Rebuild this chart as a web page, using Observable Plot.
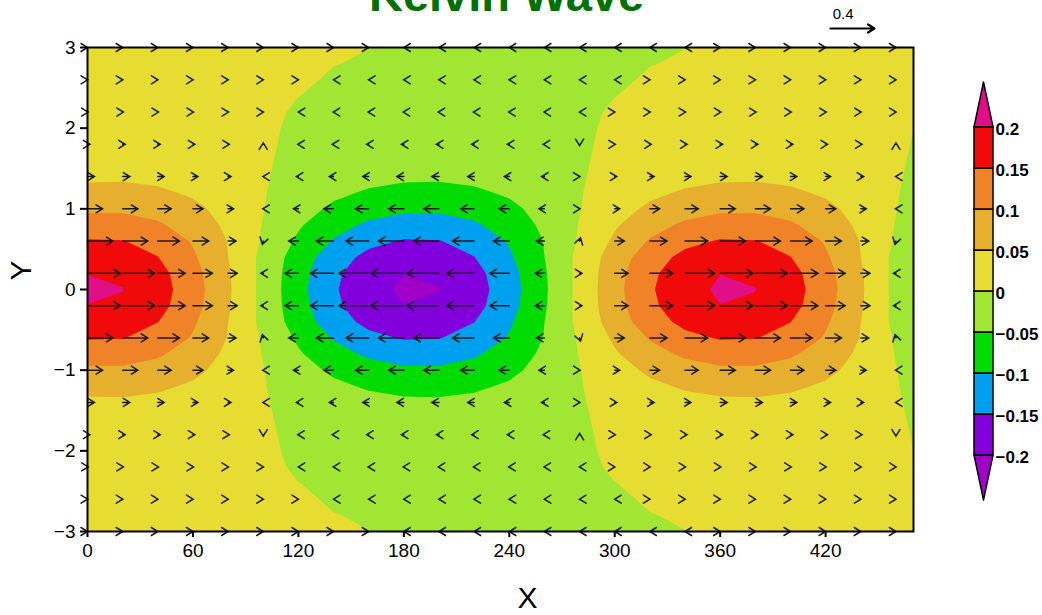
<!DOCTYPE html>
<html><head><meta charset="utf-8">
<script src="https://cdn.jsdelivr.net/npm/d3@7"></script>
<script src="https://cdn.jsdelivr.net/npm/@observablehq/plot@0.6"></script>
<style>
body{margin:0;background:#fff;}
#wrap{position:relative;width:1042px;height:615px;overflow:hidden;font-family:"Liberation Sans",Arial,sans-serif;}
#bar{position:absolute;left:940px;top:70px;}
#main{position:absolute;left:0;top:0;}
</style></head><body><div id="wrap"><div id="main"></div><div id="bar"></div></div>
<script>
// ---------- data ----------
// grid columns (x) for the shaded field
const xGrid = [0,20,40,60,80,100,120,140,160,180,200,220,240,260,280,300,320,340,360,380,400,420,440,460,480];
// grid rows (y >= 0); the field is symmetric about y = 0
const yNorth = [0,0.2,0.4,0.6,0.8,1.0,1.2,1.4,1.6,1.8,2.0,2.2,2.4,2.6,2.8,3.0];
const hNorth = [
 [0.2059,0.2009,0.1716,0.1217,0.0571,-0.0144,-0.0842,-0.1438,-0.1861,-0.2059,-0.2009,-0.1716,-0.1217,-0.0571,0.0144,0.0842,0.1438,0.1861,0.2059,0.2009,0.1716,0.1217,0.0571,-0.0144,-0.0842],
 [0.1994,0.1945,0.1662,0.1179,0.0553,-0.0140,-0.0815,-0.1393,-0.1802,-0.1994,-0.1945,-0.1662,-0.1179,-0.0553,0.0140,0.0815,0.1393,0.1802,0.1994,0.1945,0.1662,0.1179,0.0553,-0.0140,-0.0815],
 [0.1811,0.1767,0.1510,0.1070,0.0502,-0.0127,-0.0741,-0.1265,-0.1637,-0.1811,-0.1767,-0.1510,-0.1070,-0.0502,0.0127,0.0741,0.1265,0.1637,0.1811,0.1767,0.1510,0.1070,0.0502,-0.0127,-0.0741],
 [0.1537,0.1518,0.1316,0.0956,0.0480,-0.0054,-0.0581,-0.1038,-0.1370,-0.1537,-0.1518,-0.1316,-0.0956,-0.0480,0.0054,0.0581,0.1038,0.1370,0.1537,0.1518,0.1316,0.0956,0.0480,-0.0054,-0.0581],
 [0.1226,0.1218,0.1064,0.0781,0.0404,-0.0022,-0.0445,-0.0814,-0.1085,-0.1226,-0.1218,-0.1064,-0.0781,-0.0404,0.0022,0.0445,0.0814,0.1085,0.1226,0.1218,0.1064,0.0781,0.0404,-0.0022,-0.0445],
 [0.0913,0.0919,0.0813,0.0610,0.0333,0.0016,-0.0303,-0.0585,-0.0797,-0.0913,-0.0919,-0.0813,-0.0610,-0.0333,-0.0016,0.0303,0.0585,0.0797,0.0913,0.0919,0.0813,0.0610,0.0333,0.0016,-0.0303],
 [0.0640,0.0648,0.0577,0.0438,0.0245,0.0023,-0.0202,-0.0403,-0.0555,-0.0640,-0.0648,-0.0577,-0.0438,-0.0245,-0.0023,0.0202,0.0403,0.0555,0.0640,0.0648,0.0577,0.0438,0.0245,0.0023,-0.0202],
 [0.0419,0.0430,0.0388,0.0300,0.0176,0.0030,-0.0119,-0.0254,-0.0358,-0.0419,-0.0430,-0.0388,-0.0300,-0.0176,-0.0030,0.0119,0.0254,0.0358,0.0419,0.0430,0.0388,0.0300,0.0176,0.0030,-0.0119],
 [0.0257,0.0266,0.0244,0.0192,0.0117,0.0028,-0.0065,-0.0149,-0.0216,-0.0257,-0.0266,-0.0244,-0.0192,-0.0117,-0.0028,0.0065,0.0149,0.0216,0.0257,0.0266,0.0244,0.0192,0.0117,0.0028,-0.0065],
 [0.0147,0.0155,0.0144,0.0115,0.0073,0.0022,-0.0032,-0.0082,-0.0122,-0.0147,-0.0155,-0.0144,-0.0115,-0.0073,-0.0022,0.0032,0.0082,0.0122,0.0147,0.0155,0.0144,0.0115,0.0073,0.0022,-0.0032],
 [0.0079,0.0084,0.0079,0.0065,0.0042,0.0015,-0.0015,-0.0042,-0.0065,-0.0079,-0.0084,-0.0079,-0.0065,-0.0042,-0.0015,0.0015,0.0042,0.0065,0.0079,0.0084,0.0079,0.0065,0.0042,0.0015,-0.0015],
 [0.0039,0.0043,0.0041,0.0035,0.0024,0.0010,-0.0005,-0.0019,-0.0031,-0.0039,-0.0043,-0.0041,-0.0035,-0.0024,-0.0010,0.0005,0.0019,0.0031,0.0039,0.0043,0.0041,0.0035,0.0024,0.0010,-0.0005],
 [0.00177,0.00202,0.00203,0.00180,0.00135,0.00074,0.00004,-0.00067,-0.00130,-0.00177,-0.00202,-0.00203,-0.00180,-0.00135,-0.00074,-0.00004,0.00067,0.00130,0.00177,0.00202,0.00203,0.00180,0.00135,0.00074,0.00004],
 [0.00069,0.00086,0.00093,0.00088,0.00073,0.00049,0.00019,-0.00013,-0.00044,-0.00069,-0.00086,-0.00093,-0.00088,-0.00073,-0.00049,-0.00019,0.00013,0.00044,0.00069,0.00086,0.00093,0.00088,0.00073,0.00049,0.00019],
 [0.00022,0.00032,0.00038,0.00039,0.00035,0.00028,0.00016,0.00003,-0.00010,-0.00022,-0.00032,-0.00038,-0.00039,-0.00035,-0.00028,-0.00016,-0.00003,0.00010,0.00022,0.00032,0.00038,0.00039,0.00035,0.00028,0.00016],
 [0.00005,0.00010,0.00013,0.00015,0.00015,0.00014,0.00010,0.00006,0.00001,-0.00005,-0.00010,-0.00013,-0.00015,-0.00015,-0.00014,-0.00010,-0.00006,-0.00001,0.00005,0.00010,0.00013,0.00015,0.00015,0.00014,0.00010]
];
// wind vectors: columns and rows (y > 0); u is symmetric about y = 0
const arrowX = [0,20,40,60,80,100,120,140,160,180,200,220,240,260,280,300,320,340,360,380,400,420,440,460];
const arrowYNorth = [0.2,0.6,1.0,1.4,1.8,2.2,2.6,3.0];
const uNorth = [
 [0.299,0.292,0.249,0.177,0.083,-0.021,-0.122,-0.209,-0.270,-0.299,-0.292,-0.249,-0.177,-0.083,0.021,0.122,0.209,0.270,0.299,0.292,0.249,0.177,0.083,-0.021],
 [0.231,0.228,0.197,0.143,0.072,-0.008,-0.087,-0.156,-0.206,-0.231,-0.228,-0.197,-0.143,-0.072,0.008,0.087,0.156,0.206,0.231,0.228,0.197,0.143,0.072,-0.008],
 [0.137,0.138,0.122,0.092,0.050,-0.004,-0.045,-0.088,-0.120,-0.137,-0.138,-0.122,-0.092,-0.050,0.004,0.045,0.088,0.120,0.137,0.138,0.122,0.092,0.050,-0.004],
 [0.063,0.065,0.058,0.045,0.026,-0.003,-0.018,-0.038,-0.054,-0.063,-0.065,-0.058,-0.045,-0.026,0.003,0.018,0.038,0.054,0.063,0.065,0.058,0.045,0.026,-0.003],
 [0.022,0.023,0.022,0.017,0.011,0.000,-0.005,-0.012,-0.018,-0.022,-0.023,-0.022,-0.017,-0.011,0.000,0.005,0.012,0.018,0.022,0.023,0.022,0.017,0.011,0.000],
 [0.0059,0.0065,0.0062,0.0052,0.0036,0.0015,-0.0007,-0.0028,-0.0047,-0.0059,-0.0065,-0.0062,-0.0052,-0.0036,-0.0015,0.0007,0.0028,0.0047,0.0059,0.0065,0.0062,0.0052,0.0036,0.0015],
 [0.0010,0.0013,0.0014,0.0013,0.0011,0.0007,0.0003,-0.0002,-0.0007,-0.0010,-0.0013,-0.0014,-0.0013,-0.0011,-0.0007,-0.0003,0.0002,0.0007,0.0010,0.0013,0.0014,0.0013,0.0011,0.0007],
 [0.0001,0.0002,0.0002,0.0002,0.0002,0.0002,0.0002,0.0001,0.00001,-0.0001,-0.0002,-0.0002,-0.0002,-0.0002,-0.0002,-0.0002,-0.0001,-0.00001,0.0001,0.0002,0.0002,0.0002,0.0002,0.0002]
];
// nodes where the meridional wind v is visible (x, y, v); v = 0 elsewhere
const vNodes = [
 [100,1.8,0.012],[100,0.6,-0.03],[100,-0.6,0.03],[100,-1.8,-0.012],
 [280,1.8,-0.012],[280,0.6,0.03],[280,-0.6,-0.03],[280,-1.8,0.012],
 [460,1.8,0.012],[460,0.6,-0.03],[460,-0.6,0.03],[460,-1.8,-0.012]
];
const refVector = [{len: 0.4, label: "0.4"}];
// contour levels and colours
const levels = [-0.2,-0.15,-0.1,-0.05,0,0.05,0.1,0.15,0.2];
const levelLabels = ["\u22120.2","\u22120.15","\u22120.1","\u22120.05","0","0.05","0.1","0.15","0.2"];
const bandColors = ["#a000c8","#8200dc","#00a0f0","#00dc00","#a0e632","#e6dc32","#e6af2d","#f08228","#f00a0a","#e10f87"];
const xTicks = [0,60,120,180,240,300,360,420];
const yTicks = [-3,-2,-1,0,1,2,3];
const titleText = "Kelvin Wave";

// ---------- build plot inputs ----------
const gridRows = [...hNorth.slice(1).reverse(), hNorth[0], ...hNorth.slice(1)]; // y = 3 ... -3
const hValues = gridRows.flat();
const dx = xGrid[1] - xGrid[0];
const dy = yNorth[1] - yNorth[0];

const arrows = [];
arrowYNorth.forEach((y, j) => arrowX.forEach((x, i) => {
  for (const yy of [y, -y]) {
    const e = vNodes.find(d => d[0] === x && d[1] === yy);
    const u = uNorth[j][i], v = e ? e[2] : 0;
    arrows.push({x, y: yy, u, v, len: Math.hypot(u, v), angle: Math.atan2(u, v) * 180 / Math.PI});
  }
}));

// GrADS-like arrow: shaft scaled by length, head of fixed size
const gradsArrow = {
  draw(ctx, l) {
    const head = 6.5, wing = 4;
    ctx.moveTo(0, 0); ctx.lineTo(0, -l);
    ctx.moveTo(-wing, -l + head); ctx.lineTo(0, -l); ctx.lineTo(wing, -l + head);
  }
};

const colorScale = {type: "threshold", domain: levels, range: bandColors};

const main = Plot.plot({
  width: 1042, height: 615,
  marginLeft: 87, marginRight: 129, marginTop: 47, marginBottom: 84,
  style: {fontFamily: '"Liberation Sans", Arial, sans-serif', fontSize: "19px", color: "#000", background: "transparent", overflow: "visible"},
  x: {domain: [0, 470]},
  y: {domain: [-3, 3]},
  color: colorScale,
  length: {domain: [0, 0.4], range: [0, 44]},
  marks: [
    Plot.contour(hValues, {
      x1: xGrid[0] - dx / 2, x2: xGrid[xGrid.length - 1] + dx / 2,
      y1: yNorth[yNorth.length - 1] + dy / 2, y2: -(yNorth[yNorth.length - 1] + dy / 2),
      width: xGrid.length, height: gridRows.length,
      fill: Plot.identity, thresholds: [-1, ...levels], clip: true
    }),
    Plot.vector(arrows, {x: "x", y: "y", length: "len", rotate: "angle", anchor: "start",
      shape: gradsArrow, stroke: "#1a1a1a", strokeWidth: 1.5, strokeLinejoin: "miter"}),
    Plot.frame({stroke: "#000", strokeWidth: 2}),
    Plot.axisX({ticks: xTicks, tickFormat: "d", tickSize: 6, tickPadding: 6, strokeWidth: 2, label: null}),
    Plot.axisY({ticks: yTicks, tickFormat: "d", tickSize: 7, tickPadding: 5, strokeWidth: 2, label: null}),
    Plot.vector(refVector, {length: "len", rotate: 90, anchor: "start", frameAnchor: "top-right",
      dx: -83, dy: -19, shape: gradsArrow, stroke: "#000", strokeWidth: 2.2}),
    Plot.text(refVector, {text: "label", frameAnchor: "top-right", dx: -60, dy: -33, fontSize: 15, lineAnchor: "middle"}),
    Plot.text([titleText], {frameAnchor: "top", dx: 6, dy: -52, lineAnchor: "middle", fontSize: 47, fontWeight: "bold", fill: "#007000"}),
    Plot.text(["X"], {frameAnchor: "bottom", dx: 27, dy: 67, lineAnchor: "middle", fontSize: 30}),
    Plot.text(["Y"], {frameAnchor: "left", dx: -66, dy: -9, lineAnchor: "middle", rotate: -90, fontSize: 30})
  ]
});
document.getElementById("main").append(main);

// ---------- colour bar ----------
const tip = 0.2549;
const boxes = levels.slice(0, -1).map((lo, i) => ({y1: lo, y2: levels[i + 1], v: lo}));
const tris = [
  {id: "top", y: levels[levels.length - 1], x1: 0, x2: 1, v: levels[levels.length - 1]},
  {id: "top", y: tip, x1: 0.5, x2: 0.5, v: levels[levels.length - 1]},
  {id: "bot", y: levels[0], x1: 0, x2: 1, v: -1},
  {id: "bot", y: -tip, x1: 0.5, x2: 0.5, v: -1}
];
const bar = Plot.plot({
  width: 102, height: 440,
  marginLeft: 34, marginRight: 49, marginTop: 12, marginBottom: 10,
  style: {fontFamily: '"Liberation Sans", Arial, sans-serif', background: "transparent", overflow: "visible"},
  x: {domain: [0, 1], axis: null},
  y: {domain: [-tip, tip], axis: null},
  color: colorScale,
  marks: [
    Plot.areaX(tris, {y: "y", x1: "x1", x2: "x2", z: "id", fill: "v", stroke: "#000", strokeWidth: 1.5}),
    Plot.rect(boxes, {x1: 0, x2: 1, y1: "y1", y2: "y2", fill: "v", stroke: "#000", strokeWidth: 1.5}),
    Plot.text(levels, {x: 1, y: d => d, text: (d, i) => levelLabels[i], textAnchor: "start", dx: 2, dy: 2, fontSize: 17, fontWeight: "bold", fill: "#000"})
  ]
});
document.getElementById("bar").append(bar);
</script></body></html>
